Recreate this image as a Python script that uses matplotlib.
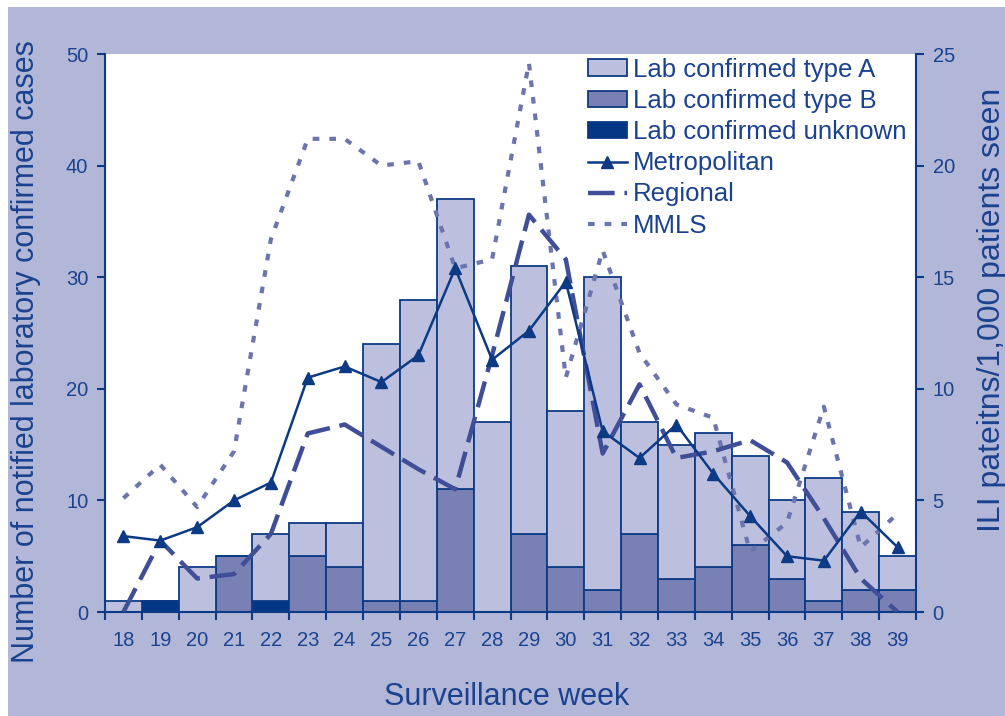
import matplotlib.pyplot as plt
import numpy as np
from matplotlib.patches import Rectangle

plt.rcParams["font.family"] = ["Liberation Sans", "DejaVu Sans"]

# ─── Data ──────────────────────────────────────────────────────────────────
weeks = [18, 19, 20, 21, 22, 23, 24, 25, 26, 27, 28, 29, 30, 31, 32, 33, 34, 35, 36, 37, 38, 39]
lab_unknown = [0, 1, 0, 0, 1, 0, 0, 0, 0, 0, 0, 0, 0, 0, 0, 0, 0, 0, 0, 0, 0, 0]
lab_type_b = [0, 0, 0, 5, 0, 5, 4, 1, 1, 11, 0, 7, 4, 2, 7, 3, 4, 6, 3, 1, 2, 2]
lab_type_a = [1, 0, 4, 0, 6, 3, 4, 23, 27, 26, 17, 24, 14, 28, 10, 12, 12, 8, 7, 11, 7, 3]

metropolitan = [3.4, 3.2, 3.8, 5.0, 5.8, 10.5, 11.0, 10.3, 11.5, 15.4, 11.3, 12.6,
                14.8, 8.1, 6.9, 8.4, 6.2, 4.3, 2.5, 2.3, 4.5, 2.9]
regional = [0.0, 3.2, 1.5, 1.7, 3.5, 8.0, 8.4, 7.4, 6.4, 5.5, 11.5, 17.8,
            15.8, 7.1, 10.2, 6.9, 7.2, 7.7, 6.7, 4.2, 1.5, 0.0]
mmls = [5.1, 6.6, 4.7, 7.2, 16.7, 21.2, 21.2, 20.0, 20.2, 15.4, 15.8, 24.6,
        10.5, 16.2, 11.6, 9.3, 8.7, 2.7, 4.0, 9.2, 2.9, 4.4]

# ─── Styling ───────────────────────────────────────────────────────────────
BG = "#b2b7d8"
NAVY = "#0d3a85"
TEXT = "#1a428f"
LIGHT = "#bcc0de"
MID = "#7880b4"
DARK = "#033785"
REG_COLOR = "#3f4e97"
MMLS_COLOR = "#6b74ad"

fig = plt.figure(figsize=(10.05, 7.16), dpi=100, facecolor="white")
fig.patches.append(Rectangle((8 / 1005, 0), 1, 1 - 7 / 716, transform=fig.transFigure,
                             facecolor=BG, edgecolor="none", zorder=-10))

ax = fig.add_axes([105 / 1005, 1 - 612 / 716, (916 - 105) / 1005, (612 - 54) / 716])
ax.set_facecolor("white")

x = np.arange(len(weeks))
bar_kw = dict(width=1.0, edgecolor=NAVY, linewidth=1.3)
b_unk = ax.bar(x, lab_unknown, color=DARK, **bar_kw)
b_b = ax.bar(x, lab_type_b, bottom=lab_unknown, color=MID, **bar_kw)
bottom_a = np.array(lab_unknown) + np.array(lab_type_b)
b_a = ax.bar(x, lab_type_a, bottom=bottom_a, color=LIGHT, **bar_kw)

ax.set_xlim(-0.5, len(weeks) - 0.5)
ax.set_ylim(0, 50)
ax.set_yticks(range(0, 51, 10))
ax.set_xticks(x)
ax.set_xticklabels([str(w) for w in weeks])
ax.set_xticks(np.arange(-0.5, len(weeks)), minor=True)
ax.tick_params(axis="x", which="major", length=0, pad=14, labelsize=14.5, colors=TEXT)
ax.tick_params(axis="x", which="minor", length=6, width=1.5, color=NAVY, direction="out")
ax.tick_params(axis="y", length=6, width=1.5, color=NAVY, labelcolor=TEXT, labelsize=14.5, pad=6)
for side in ("top", "right"):
    ax.spines[side].set_visible(False)
for side in ("left", "bottom"):
    ax.spines[side].set_color(NAVY)
    ax.spines[side].set_linewidth(1.5)

# ─── ILI lines on the right axis ───────────────────────────────────────────
ax2 = ax.twinx()
ax2.set_ylim(0, 25)
ax2.set_yticks(range(0, 26, 5))
ax2.tick_params(axis="y", length=6, width=1.5, color=NAVY, labelcolor=TEXT, labelsize=14.5, pad=6)
for side in ("top", "left", "bottom"):
    ax2.spines[side].set_visible(False)
ax2.spines["right"].set_color(NAVY)
ax2.spines["right"].set_linewidth(1.5)

(l_mmls,) = ax2.plot(x, mmls, color=MMLS_COLOR, linewidth=3, dashes=(1.6, 2.4))
(l_reg,) = ax2.plot(x, regional, color=REG_COLOR, linewidth=3.2, dashes=(6, 2.2))
(l_met,) = ax2.plot(x, metropolitan, color=NAVY, linewidth=1.8, marker="^", markersize=8)

fig.text(26 / 1005, 1 - 352 / 716, "Number of notified laboratory confirmed cases",
         rotation=90, ha="center", va="center", fontsize=22, color=TEXT)
fig.text(992 / 1005, 1 - 310 / 716, "ILI pateitns/1,000 patients seen",
         rotation=90, ha="center", va="center", fontsize=23, color=TEXT)
fig.text(507 / 1005, 1 - 697 / 716, "Surveillance week",
         ha="center", va="center", fontsize=22, color=TEXT)

leg = ax2.legend(
    [b_a, b_b, b_unk, l_met, l_reg, l_mmls],
    ["Lab confirmed type A", "Lab confirmed type B", "Lab confirmed unknown",
     "Metropolitan", "Regional", "MMLS"],
    loc="upper left",
    bbox_to_anchor=(585 / 1005, 1 - 55 / 716),
    bbox_transform=fig.transFigure,
    frameon=True,
    fontsize=18.5,
    labelspacing=0.28,
    handlelength=1.55,
    handleheight=0.6,
    handletextpad=0.2,
    borderpad=0.1,
    borderaxespad=0,
)
leg.get_frame().set_facecolor("white")
leg.get_frame().set_edgecolor("none")
leg.get_frame().set_alpha(1.0)
for t in leg.get_texts():
    t.set_color(TEXT)

fig.savefig("out.png", dpi=100, facecolor=fig.get_facecolor())
